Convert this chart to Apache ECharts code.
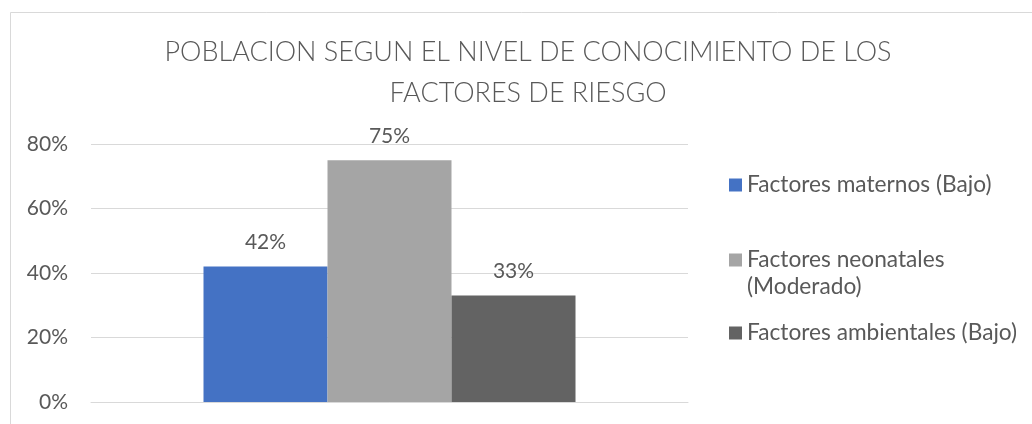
<!DOCTYPE html>
<html>
<head>
<meta charset="utf-8">
<script src="https://cdn.jsdelivr.net/npm/echarts@6/dist/echarts.min.js"></script>
<style>
  html, body { margin: 0; padding: 0; background: #fff; }
  #chart { width: 1032px; height: 424px; }
</style>
</head>
<body>
<div id="chart"></div>
<script>
// datos
var titleLines = ['POBLACION SEGUN EL NIVEL DE CONOCIMIENTO DE LOS', 'FACTORES DE RIESGO'];
var categories = [''];
var seriesNames = ['Factores maternos (Bajo)', 'Factores neonatales (Moderado)', 'Factores ambientales (Bajo)'];
// la linea vacia inicial deja el icono a la altura de la primera linea, como en Excel
var legendLabels = ['Factores maternos (Bajo)', '\nFactores neonatales\n(Moderado)', 'Factores ambientales (Bajo)'];
var seriesValues = [[42], [75], [33]];
var colors = ['#4472C4', '#A5A5A5', '#636363'];
var yTicks = [0, 20, 40, 60, 80];

var FONT = 'Lato';
var TXT = '#595959';

var myChart = echarts.init(document.getElementById('chart'));

var series = seriesNames.map(function (name, i) {
  return {
    name: name,
    type: 'bar',
    data: seriesValues[i],
    barWidth: 124,
    barGap: '0%',
    itemStyle: { color: colors[i] },
    label: {
      show: true,
      position: 'top',
      distance: 13,
      formatter: '{c}%',
      color: TXT,
      fontFamily: FONT,
      fontSize: 21,
      lineHeight: 22
    }
  };
});

// una leyenda por serie
var legendTops = [171.5, 219.5, 319.5];
var legends = seriesNames.map(function (name, i) {
  return {
    orient: 'vertical',
    left: 729,
    top: legendTops[i],
    padding: 0,
    itemWidth: 13,
    itemHeight: 13,
    icon: 'rect',
    data: [name],
    formatter: function () { return legendLabels[i]; },
    textStyle: {
      color: TXT,
      fontFamily: FONT,
      fontSize: 22.7,
      lineHeight: 27
    }
  };
});

var option = {
  backgroundColor: '#fff',
  animation: false,
  title: {
    text: titleLines.join('\n'),
    left: 528,
    top: 32,
    padding: 0,
    textAlign: 'center',
    textStyle: {
      color: TXT,
      fontFamily: FONT,
      fontWeight: 300,
      fontSize: 27,
      lineHeight: 41
    }
  },
  legend: legends,
  graphic: [{
    type: 'rect',
    silent: true,
    shape: { x: 10.5, y: 12.5, width: 1100, height: 500 },
    style: { fill: 'none', stroke: '#d9d9d9', lineWidth: 1 }
  }],
  grid: { left: 91, right: 344, top: 144, bottom: 22 },
  xAxis: {
    type: 'category',
    data: categories,
    axisLine: { show: true, lineStyle: { color: '#d9d9d9' } },
    axisTick: { show: false },
    axisLabel: { show: false }
  },
  yAxis: {
    type: 'value',
    min: yTicks[0],
    max: yTicks[yTicks.length - 1],
    interval: 20,
    axisLine: { show: false },
    axisTick: { show: false },
    splitLine: { lineStyle: { color: '#d9d9d9', width: 1 } },
    axisLabel: {
      formatter: '{value}%',
      margin: 23,
      color: TXT,
      fontFamily: FONT,
      fontSize: 21
    }
  },
  series: series
};

myChart.setOption(option);
</script>
</body>
</html>
